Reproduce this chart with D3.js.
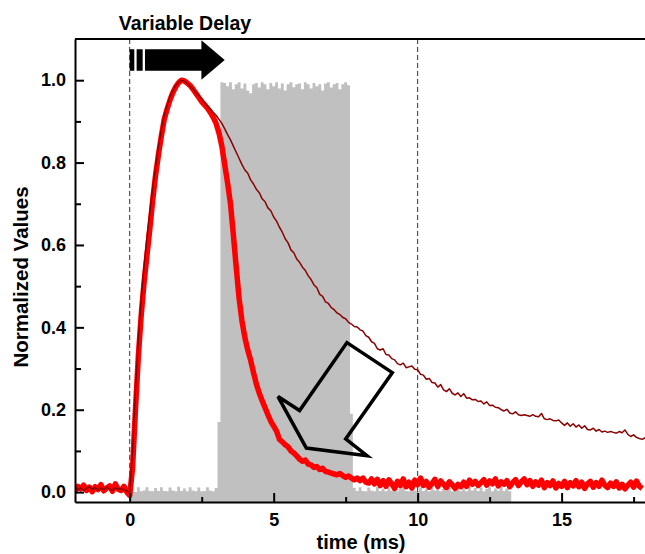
<!DOCTYPE html>
<html lang="en">
<head>
<meta charset="UTF-8">
<title>Normalized Values vs time</title>
<script src="https://d3js.org/d3.v7.min.js"></script>
<style>
  body { margin: 0; background: #fff; }
  text { font-family: "Liberation Sans", Arial, sans-serif; font-weight: bold; fill: #000; }
  .axis path, .axis line { stroke: #000; stroke-width: 2; }
  .minor line { stroke: #000; stroke-width: 2; }
  .minor path { display: none; }
</style>
</head>
<body>
<div id="chart"></div>
<script>
// sampling: one value every 0.1 ms, each row below is one millisecond
const step = 0.1;

// thick red trace, first value at t = -2.0 ms
const redStart = -2.0;
const redValues = [
  0.006, 0.002, 0.014, 0.008, 0.017, 0.004, 0.012, 0.001, 0.013, 0.006,
  0.018, 0.003, 0.010, 0.015, 0.002, 0.020, 0.007, 0.004, 0.014, 0.0,
  -0.008, 0.06, 0.20, 0.33, 0.43, 0.51, 0.575, 0.64, 0.71, 0.77,
  0.82, 0.865, 0.905, 0.93, 0.952, 0.97, 0.984, 0.994, 1.0, 0.998,
  0.993, 0.987, 0.978, 0.968, 0.958, 0.948, 0.94, 0.932, 0.922, 0.91,
  0.895, 0.872, 0.84, 0.795, 0.75, 0.70, 0.625, 0.545, 0.47, 0.415,
  0.375, 0.345, 0.32, 0.29, 0.262, 0.24, 0.222, 0.205, 0.188, 0.172,
  0.16, 0.148, 0.128, 0.122, 0.115, 0.11, 0.10, 0.095, 0.088, 0.08,
  0.075, 0.078, 0.068, 0.066, 0.06, 0.062, 0.055, 0.058, 0.05, 0.049,
  0.046, 0.044, 0.042, 0.045, 0.04, 0.036, 0.039, 0.034, 0.03, 0.034,
  0.028, 0.034, 0.024, 0.022, 0.032, 0.02, 0.031, 0.016, 0.028, 0.014,
  0.030, 0.020, 0.009, 0.026, 0.016, 0.032, 0.013, 0.024, 0.010, 0.029,
  0.018, 0.034, 0.016, 0.026, 0.012, 0.021, 0.031, 0.014, 0.027, 0.019,
  0.011, 0.025, 0.018, 0.009, 0.019, 0.013, 0.024, 0.014, 0.029, 0.019,
  0.026, 0.016, 0.023, 0.030, 0.017, 0.027, 0.020, 0.032, 0.015, 0.025,
  0.019, 0.028, 0.013, 0.023, 0.030, 0.016, 0.025, 0.032, 0.018, 0.028,
  0.014, 0.025, 0.017, 0.029, 0.011, 0.023, 0.016, 0.027, 0.010, 0.021,
  0.014, 0.026, 0.011, 0.023, 0.015, 0.028, 0.013, 0.024, 0.009, 0.020,
  0.026, 0.012, 0.023, 0.014, 0.029, 0.017, 0.011, 0.022, 0.014, 0.025,
  0.010, 0.019, 0.008, 0.017, 0.024, 0.012, 0.027, 0.014, 0.009
];

// thin dark red trace, first value at t = -2.0 ms
const darkStart = -2.0;
const darkValues = [
  0.008, 0.012, 0.006, 0.010, 0.004, 0.009, 0.013, 0.007, 0.011, 0.005,
  0.010, 0.006, 0.012, 0.008, 0.004, 0.011, 0.007, 0.009, 0.005, 0.003,
  0.0, 0.10, 0.25, 0.37, 0.47, 0.55, 0.62, 0.68, 0.74, 0.79,
  0.84, 0.88, 0.915, 0.94, 0.96, 0.975, 0.988, 0.995, 1.0, 0.997,
  0.992, 0.985, 0.978, 0.97, 0.962, 0.955, 0.945, 0.937, 0.93, 0.922,
  0.915, 0.905, 0.895, 0.882, 0.868, 0.855, 0.84, 0.825, 0.81, 0.795,
  0.782, 0.774, 0.758, 0.748, 0.735, 0.727, 0.712, 0.705, 0.69, 0.683,
  0.668, 0.658, 0.643, 0.631, 0.615, 0.605, 0.588, 0.581, 0.566, 0.558,
  0.546, 0.538, 0.525, 0.516, 0.503, 0.496, 0.48, 0.475, 0.462, 0.458,
  0.448, 0.443, 0.435, 0.431, 0.424, 0.421, 0.412, 0.408, 0.402, 0.401,
  0.394, 0.391, 0.38, 0.376, 0.365, 0.361, 0.348, 0.345, 0.348, 0.334,
  0.333, 0.324, 0.321, 0.312, 0.309, 0.313, 0.302, 0.304, 0.306, 0.298,
  0.297, 0.286, 0.284, 0.274, 0.276, 0.266, 0.265, 0.255, 0.261, 0.248,
  0.244, 0.251, 0.24, 0.236, 0.241, 0.232, 0.239, 0.228, 0.229, 0.224,
  0.225, 0.22, 0.221, 0.214, 0.219, 0.21, 0.211, 0.206, 0.205, 0.20,
  0.197, 0.201, 0.192, 0.19, 0.195, 0.188, 0.186, 0.188, 0.186, 0.184,
  0.188, 0.184, 0.183, 0.191, 0.178, 0.176, 0.178, 0.174, 0.173, 0.175,
  0.168, 0.162, 0.168, 0.16, 0.166, 0.158, 0.163, 0.155, 0.161, 0.152,
  0.151, 0.155, 0.148, 0.152, 0.146, 0.148, 0.145, 0.147, 0.145, 0.143,
  0.147, 0.144, 0.151, 0.14, 0.135, 0.139, 0.133, 0.13, 0.128, 0.132
];

// grey histogram, bins of 0.1 ms, first bin starts at t = 0.05 ms
const grayStart = 0.05;
const grayValues = [
  0, 0, 0.012, 0.002, 0.004, 0.012, 0.003, 0.002, 0.010, 0.003,
  0.012, 0.003, 0.002, 0.011, 0.004, 0.002, 0.013, 0.003, 0.009, 0.002,
  0.012, 0.004, 0.002, 0.011, 0.002, 0.003, 0.012, 0.004, 0.002, 0.010,
  0.17, 0.995, 0.993, 0.985, 0.995, 0.978, 0.99, 0.995, 0.98, 0.992,
  0.975, 0.968, 0.99, 0.993, 0.982, 0.995, 0.99, 0.978, 0.993, 0.985,
  0.995, 0.98, 0.992, 0.975, 0.99, 0.995, 0.983, 0.99, 0.992, 0.978,
  0.995, 0.99, 0.98, 0.993, 0.985, 0.99, 0.975, 0.992, 0.995, 0.982,
  0.99, 0.993, 0.978, 0.99, 0.995, 0.988, 0.19, 0.01, 0.003, 0.012,
  0.003, 0.002, 0.011, 0.004, 0.002, 0.013, 0.003, 0.009, 0.002, 0.011,
  0.004, 0.012, 0.002, 0.009, 0.013, 0.003, 0.002, 0.011, 0.004, 0.002,
  0.012, 0.003, 0.009, 0.002, 0.011, 0.004, 0.013, 0.002, 0.008, 0.003,
  0.011, 0.002, 0.009, 0.012, 0.003, 0.008, 0.002, 0.013, 0.004, 0.010,
  0.003, 0.011, 0.002, 0.008, 0.012, 0.002, 0.009, 0.004, 0.013, 0.003,
  0.009, 0.002
];

// axis ticks
const xMajor = [0, 5, 10, 15];
const xMinor = [2.5, 7.5, 12.5, 17.5];
const yMajor = [0, 0.2, 0.4, 0.6, 0.8, 1.0];
const yMinor = [0.1, 0.3, 0.5, 0.7, 0.9];
const dashedTimes = [0, 10];

// "Variable Delay" arrow, in data units
const delayArrow = { start: 0, headBase: 2.49, tip: 3.3, center: 1.049, body: 0.026, head: 0.048 };
const delayStripes = [0.2, 0.49];

// hollow arrow outline (time, value)
const hollowArrow = [
  [7.545, 0.363], [9.12, 0.290], [7.5, 0.129], [8.24, 0.0885],
  [6.135, 0.107], [5.15, 0.232], [5.90, 0.198]
];

const W = 645, H = 554;
const plotLeft = 75, plotRight = 648, plotTop = 39, plotBottom = 502;

const svg = d3.select("#chart").append("svg")
  .attr("width", W).attr("height", H);

const x = d3.scaleLinear().domain([-1.9, 18.0]).range([plotLeft, plotRight]);
const y = d3.scaleLinear().domain([-0.024, 1.1]).range([plotBottom, plotTop]);

svg.append("clipPath").attr("id", "plot")
  .append("rect").attr("x", plotLeft).attr("y", plotTop)
  .attr("width", plotRight - plotLeft).attr("height", plotBottom - plotTop);

const plot = svg.append("g").attr("clip-path", "url(#plot)");

// grey bins as a stepped area
const grayPts = grayValues.map((v, i) => [grayStart + i * step, v]);
grayPts.push([grayStart + grayValues.length * step, grayValues[grayValues.length - 1]]);
plot.append("path")
  .datum(grayPts)
  .attr("fill", "#c0c0c0")
  .attr("d", d3.area()
    .curve(d3.curveStepAfter)
    .x(d => x(d[0]))
    .y0(y(-0.024))
    .y1(d => y(d[1])));

// dashed guides
plot.selectAll(".guide").data(dashedTimes).enter().append("line")
  .attr("class", "guide")
  .attr("x1", d => x(d)).attr("x2", d => x(d))
  .attr("y1", plotTop).attr("y2", plotBottom)
  .attr("stroke", "#333").attr("stroke-width", 1)
  .attr("stroke-dasharray", "5,3");

const line = d3.line().x(d => x(d[0])).y(d => y(d[1]));

plot.append("path")
  .datum(redValues.map((v, i) => [redStart + i * step, v]))
  .attr("fill", "none").attr("stroke", "#ff0000")
  .attr("stroke-width", 5.5).attr("stroke-linejoin", "round")
  .attr("d", line);

plot.append("path")
  .datum(darkValues.map((v, i) => [darkStart + i * step, v]))
  .attr("fill", "none").attr("stroke", "#8b0000")
  .attr("stroke-width", 1.5).attr("stroke-linejoin", "round")
  .attr("d", line);

// hollow arrow
svg.append("path")
  .datum(hollowArrow)
  .attr("fill", "none").attr("stroke", "#000")
  .attr("stroke-width", 3.5).attr("stroke-linejoin", "miter")
  .attr("d", d => line(d) + "Z");

// filled arrow for the delay
const a = delayArrow;
const arrowPts = [
  [a.start, a.center + a.body], [a.headBase, a.center + a.body], [a.headBase, a.center + a.head],
  [a.tip, a.center], [a.headBase, a.center - a.head], [a.headBase, a.center - a.body],
  [a.start, a.center - a.body]
];
svg.append("path")
  .datum(arrowPts)
  .attr("fill", "#000")
  .attr("d", d => line(d) + "Z");
svg.selectAll(".stripe").data(delayStripes).enter().append("rect")
  .attr("class", "stripe")
  .attr("x", d => x(d - 0.04)).attr("width", x(0.08) - x(0))
  .attr("y", y(a.center + a.body) - 1).attr("height", y(a.center - a.body) - y(a.center + a.body) + 2)
  .attr("fill", "#fff");

// frame top/right
svg.append("path")
  .attr("d", `M${plotLeft},${plotTop}H${plotRight}V${plotBottom}`)
  .attr("fill", "none").attr("stroke", "#000").attr("stroke-width", 2);

// axes
svg.append("g").attr("class", "axis")
  .attr("transform", `translate(${plotLeft},0)`)
  .call(d3.axisLeft(y).tickValues(yMajor).tickFormat(d3.format(".1f"))
    .tickSizeInner(-9).tickSizeOuter(0).tickPadding(9))
  .call(g => g.selectAll("text").style("font-size", "18px"));
svg.append("g").attr("class", "minor")
  .attr("transform", `translate(${plotLeft},0)`)
  .call(d3.axisLeft(y).tickValues(yMinor).tickFormat("").tickSizeInner(-6).tickSizeOuter(0));

svg.append("g").attr("class", "axis")
  .attr("transform", `translate(0,${plotBottom})`)
  .call(d3.axisBottom(x).tickValues(xMajor).tickFormat(d3.format("d"))
    .tickSizeInner(-9).tickSizeOuter(0).tickPadding(11))
  .call(g => g.selectAll("text").style("font-size", "18px"));
svg.append("g").attr("class", "minor")
  .attr("transform", `translate(0,${plotBottom})`)
  .call(d3.axisBottom(x).tickValues(xMinor).tickFormat("").tickSizeInner(-5).tickSizeOuter(0));

svg.selectAll(".axis text").attr("font-family", null);

// labels
svg.append("text")
  .attr("x", 185).attr("y", 30)
  .attr("text-anchor", "middle").style("font-size", "19.5px")
  .text("Variable Delay");

svg.append("text")
  .attr("x", 361).attr("y", 549)
  .attr("text-anchor", "middle").style("font-size", "20px")
  .text("time (ms)");

svg.append("text")
  .attr("transform", "translate(28,277) rotate(-90)")
  .attr("text-anchor", "middle").style("font-size", "20.5px")
  .text("Normalized Values");
</script>
</body>
</html>
